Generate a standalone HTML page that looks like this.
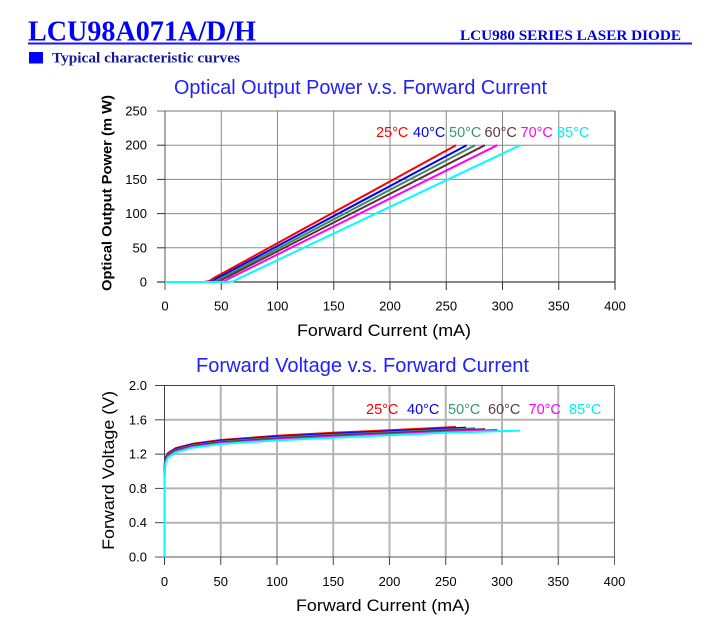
<!DOCTYPE html>
<html><head><meta charset="utf-8"><style>
html,body{margin:0;padding:0;background:#fff;}
svg{display:block;}
</style></head><body>
<svg width="705" height="619" viewBox="0 0 705 619" xmlns="http://www.w3.org/2000/svg">
<rect width="705" height="619" fill="#fff"/>
<!-- Header -->
<text x="28" y="40.5" font-family="Liberation Serif, serif" font-weight="bold" font-size="28" fill="#0000ff" textLength="228" lengthAdjust="spacingAndGlyphs">LCU98A071A/D/H</text>
<text x="460" y="40" font-family="Liberation Serif, serif" font-weight="bold" font-size="15" fill="#0000d8" textLength="221" lengthAdjust="spacingAndGlyphs">LCU980 SERIES LASER DIODE</text>
<rect x="28" y="42.5" width="664" height="2" fill="#1a1aff"/>
<rect x="29" y="52" width="14" height="11.5" fill="#0000ff"/>
<text x="52" y="62.3" font-family="Liberation Serif, serif" font-weight="bold" font-size="15" fill="#16169a" textLength="188" lengthAdjust="spacingAndGlyphs">Typical characteristic curves</text>

<!-- Chart 1 -->
<text x="174" y="94" font-family="Liberation Sans, sans-serif" font-size="20" fill="#1f1fff" textLength="373" lengthAdjust="spacingAndGlyphs">Optical Output Power v.s. Forward Current</text>
<g stroke="#8a8a8a" stroke-width="1" fill="none">
<line x1="165" y1="145.2" x2="615" y2="145.2"/>
<line x1="165" y1="179.4" x2="615" y2="179.4"/>
<line x1="165" y1="213.6" x2="615" y2="213.6"/>
<line x1="165" y1="247.8" x2="615" y2="247.8"/>
<line x1="221.25" y1="111" x2="221.25" y2="282"/>
<line x1="277.5" y1="111" x2="277.5" y2="282"/>
<line x1="333.75" y1="111" x2="333.75" y2="282"/>
<line x1="390" y1="111" x2="390" y2="282"/>
<line x1="446.25" y1="111" x2="446.25" y2="282"/>
<line x1="502.5" y1="111" x2="502.5" y2="282"/>
<line x1="558.75" y1="111" x2="558.75" y2="282"/>
</g>
<g stroke="#333" stroke-width="1" fill="none">
<line x1="157" y1="111" x2="615" y2="111" stroke="#777"/>
<line x1="165" y1="111" x2="165" y2="290" stroke="#555"/>
<line x1="615" y1="111" x2="615" y2="290" stroke="#222"/>
<line x1="157" y1="282" x2="615" y2="282" stroke="#111"/>
<line x1="157" y1="145.2" x2="165" y2="145.2"/>
<line x1="157" y1="179.4" x2="165" y2="179.4"/>
<line x1="157" y1="213.6" x2="165" y2="213.6"/>
<line x1="157" y1="247.8" x2="165" y2="247.8"/>
<line x1="221.25" y1="282" x2="221.25" y2="290"/>
<line x1="277.5" y1="282" x2="277.5" y2="290"/>
<line x1="333.75" y1="282" x2="333.75" y2="290"/>
<line x1="390" y1="282" x2="390" y2="290"/>
<line x1="446.25" y1="282" x2="446.25" y2="290"/>
<line x1="502.5" y1="282" x2="502.5" y2="290"/>
<line x1="558.75" y1="282" x2="558.75" y2="290"/>
</g>
<g font-family="Liberation Sans, sans-serif" font-size="13" fill="#000" text-anchor="end">
<text x="147" y="115.5">250</text>
<text x="147" y="149.7">200</text>
<text x="147" y="183.9">150</text>
<text x="147" y="218.1">100</text>
<text x="147" y="252.3">50</text>
<text x="147" y="286.5">0</text>
</g>
<g font-family="Liberation Sans, sans-serif" font-size="13" fill="#000" text-anchor="middle">
<text x="165" y="310.5">0</text>
<text x="221.25" y="310.5">50</text>
<text x="277.5" y="310.5">100</text>
<text x="333.75" y="310.5">150</text>
<text x="390" y="310.5">200</text>
<text x="446.25" y="310.5">250</text>
<text x="502.5" y="310.5">300</text>
<text x="558.75" y="310.5">350</text>
<text x="615" y="310.5">400</text>
</g>
<text x="297" y="336" font-family="Liberation Sans, sans-serif" font-size="17" fill="#000" textLength="174" lengthAdjust="spacingAndGlyphs">Forward Current (mA)</text>
<text transform="translate(111.5,193) rotate(-90)" x="0" y="0" text-anchor="middle" font-family="Liberation Sans, sans-serif" font-weight="bold" font-size="14" fill="#000" textLength="196" lengthAdjust="spacingAndGlyphs">Optical Output Power (m W)</text>
<g font-family="Liberation Sans, sans-serif" font-size="14.5">
<text x="376" y="137" fill="#ff0000">25°C</text>
<text x="413" y="137" fill="#0000ff">40°C</text>
<text x="449" y="137" fill="#3a9a6a">50°C</text>
<text x="484.5" y="137" fill="#5c3c3c">60°C</text>
<text x="520.5" y="137" fill="#ff00ff">70°C</text>
<text x="557" y="137" fill="#00f0f0">85°C</text>
</g>
<g fill="none" stroke-width="2" stroke-linejoin="round">
<polyline stroke="#ff0000" points="165,282 203.8,282 209.4,281.1 213.4,278.3 456,145.2"/>
<polyline stroke="#0000ff" points="165,282 207.2,282 212.8,281.1 216.8,278.4 466.6,145.2"/>
<polyline stroke="#3a8a5e" points="165,282 211.1,282 216.8,281.1 220.7,278.5 475.1,145.2"/>
<polyline stroke="#5a3535" points="165,282 214.5,282 220.1,281.1 224.1,278.6 484.9,145.2"/>
<polyline stroke="#ff00ff" points="165,282 219,282 224.6,281.2 228.6,278.7 497.3,145.2"/>
<polyline stroke="#00ffff" points="165,282 228,282 233.6,281.3 239.3,278.2 520.1,145.2"/>
</g>

<!-- Chart 2 -->
<text x="196" y="372" font-family="Liberation Sans, sans-serif" font-size="20" fill="#1f1fff" textLength="333" lengthAdjust="spacingAndGlyphs">Forward Voltage v.s. Forward Current</text>
<g stroke="#b4b4b4" stroke-width="2" fill="none">
<line x1="164.5" y1="419.8" x2="614.5" y2="419.8"/>
<line x1="164.5" y1="454.1" x2="614.5" y2="454.1"/>
<line x1="164.5" y1="488.4" x2="614.5" y2="488.4"/>
<line x1="164.5" y1="522.7" x2="614.5" y2="522.7"/>
<line x1="220.75" y1="385.5" x2="220.75" y2="557"/>
<line x1="277" y1="385.5" x2="277" y2="557"/>
<line x1="333.25" y1="385.5" x2="333.25" y2="557"/>
<line x1="389.5" y1="385.5" x2="389.5" y2="557"/>
<line x1="445.75" y1="385.5" x2="445.75" y2="557"/>
<line x1="502" y1="385.5" x2="502" y2="557"/>
<line x1="558.25" y1="385.5" x2="558.25" y2="557"/>
</g>
<g stroke="#444" stroke-width="1" fill="none">
<line x1="155" y1="385.5" x2="614.5" y2="385.5"/>
<line x1="164.5" y1="385.5" x2="164.5" y2="565"/>
<line x1="614.5" y1="385.5" x2="614.5" y2="565" stroke="#666"/>
<line x1="155" y1="557" x2="614.5" y2="557" stroke="#555"/>
<line x1="155" y1="419.8" x2="164.5" y2="419.8"/>
<line x1="155" y1="454.1" x2="164.5" y2="454.1"/>
<line x1="155" y1="488.4" x2="164.5" y2="488.4"/>
<line x1="155" y1="522.7" x2="164.5" y2="522.7"/>
<line x1="220.75" y1="557" x2="220.75" y2="565"/>
<line x1="277" y1="557" x2="277" y2="565"/>
<line x1="333.25" y1="557" x2="333.25" y2="565"/>
<line x1="389.5" y1="557" x2="389.5" y2="565"/>
<line x1="445.75" y1="557" x2="445.75" y2="565"/>
<line x1="502" y1="557" x2="502" y2="565"/>
<line x1="558.25" y1="557" x2="558.25" y2="565"/>
</g>
<g font-family="Liberation Sans, sans-serif" font-size="13" fill="#000" text-anchor="end">
<text x="147" y="390">2.0</text>
<text x="147" y="424.3">1.6</text>
<text x="147" y="458.6">1.2</text>
<text x="147" y="492.9">0.8</text>
<text x="147" y="527.2">0.4</text>
<text x="147" y="561.5">0.0</text>
</g>
<g font-family="Liberation Sans, sans-serif" font-size="13" fill="#000" text-anchor="middle">
<text x="164.5" y="586">0</text>
<text x="220.75" y="586">50</text>
<text x="277" y="586">100</text>
<text x="333.25" y="586">150</text>
<text x="389.5" y="586">200</text>
<text x="445.75" y="586">250</text>
<text x="502" y="586">300</text>
<text x="558.25" y="586">350</text>
<text x="614.5" y="586">400</text>
</g>
<text x="296" y="611" font-family="Liberation Sans, sans-serif" font-size="17" fill="#000" textLength="174" lengthAdjust="spacingAndGlyphs">Forward Current (mA)</text>
<text transform="translate(114,470.4) rotate(-90)" x="0" y="0" text-anchor="middle" font-family="Liberation Sans, sans-serif" font-size="16.5" fill="#000" textLength="159" lengthAdjust="spacingAndGlyphs">Forward Voltage (V)</text>
<g font-family="Liberation Sans, sans-serif" font-size="14.5">
<text x="366" y="414" fill="#ff0000">25°C</text>
<text x="407" y="414" fill="#0000ff">40°C</text>
<text x="448" y="414" fill="#3a9a6a">50°C</text>
<text x="488" y="414" fill="#5c3c3c">60°C</text>
<text x="528.5" y="414" fill="#ff00ff">70°C</text>
<text x="569" y="414" fill="#00f0f0">85°C</text>
</g>
<g fill="none" stroke-width="2" stroke-linejoin="round">
<polyline stroke="#ff0000" points="164.5,557 164.5,471.25 164.84,462.7 165.63,457.5 167.88,453.2 175.75,448.1 192.63,443.8 220.75,440 277,435.8 333.25,432.8 389.5,430.3 445.75,427.5 455.9,427"/>
<polyline stroke="#0000ff" points="164.5,557 164.5,473 164.84,464.4 165.63,458.5 167.88,454.1 175.75,449 192.63,444.6 220.75,440.8 277,436.7 333.25,433.8 389.5,431.3 445.75,428.6 466,427.6"/>
<polyline stroke="#3a8a5e" points="164.5,557 164.5,474.7 164.84,466.1 165.63,459.6 167.88,454.9 175.75,449.8 192.63,445.4 220.75,441.6 277,437.6 333.25,434.8 389.5,432.3 445.75,429.6 475,428.4"/>
<polyline stroke="#5a3535" points="164.5,557 164.5,476.4 164.84,467.8 165.63,460.6 167.88,455.8 175.75,450.7 192.63,446.1 220.75,442.4 277,438.6 333.25,435.8 389.5,433.2 445.75,430.7 485.1,429.1"/>
<polyline stroke="#ff00ff" points="164.5,557 164.5,478.1 164.84,469.5 165.63,461.7 167.88,456.6 175.75,451.5 192.63,446.9 220.75,443.2 277,439.5 333.25,436.8 389.5,434.2 445.75,431.7 497.5,429.9"/>
<polyline stroke="#00ffff" points="164.5,557 164.5,479.8 164.84,471.25 165.63,462.7 167.88,457.5 175.75,452.4 192.63,447.7 220.75,444 277,440.4 333.25,437.8 389.5,435.2 445.75,432.8 520,430.6"/>
</g>
</svg>
</body></html>
